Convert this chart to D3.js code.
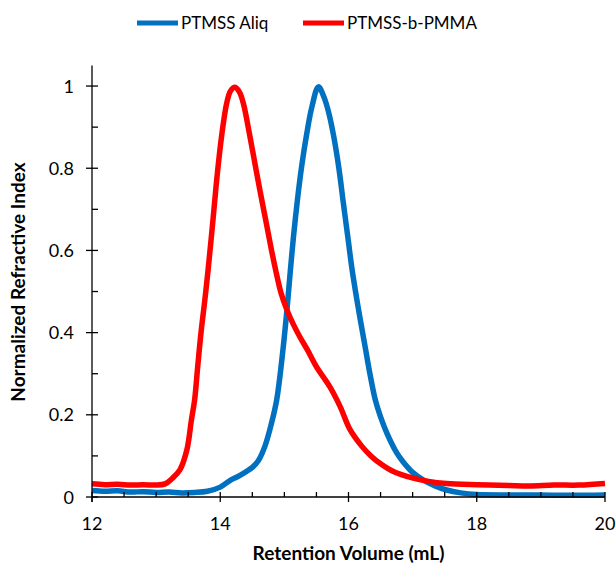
<!DOCTYPE html>
<html>
<head>
<meta charset="utf-8">
<script src="https://cdn.jsdelivr.net/npm/d3@7"></script>
<style>
  html, body { margin: 0; padding: 0; background: #fff; }
  svg { display: block; font-family: Lato, "Open Sans", sans-serif; }
</style>
</head>
<body>
<svg id="chart" width="616" height="565"></svg>
<script>
// SEC traces: retention volume (mL) vs normalized refractive index
const seriesNames = ["PTMSS Aliq", "PTMSS-b-PMMA"];
const seriesColors = ["#0070C0", "#FF0000"];

const aliqVolume = [12.0, 12.2, 12.4, 12.6, 12.8, 13.0, 13.2, 13.4, 13.6, 13.8, 14.0, 14.15, 14.3, 14.5, 14.6, 14.7, 14.8, 14.88, 14.96, 15.04, 15.09, 15.14, 15.20, 15.27, 15.35, 15.43, 15.53, 15.62, 15.70, 15.77, 15.85, 15.92, 16.0, 16.05, 16.12, 16.18, 16.26, 16.34, 16.42, 16.5, 16.6, 16.75, 16.85, 17.0, 17.17, 17.35, 17.53, 17.75, 18.0, 18.5, 19.0, 19.5, 20.0];
const aliqRI = [0.016, 0.014, 0.015, 0.012, 0.013, 0.011, 0.012, 0.010, 0.011, 0.014, 0.024, 0.040, 0.052, 0.072, 0.090, 0.125, 0.180, 0.236, 0.333, 0.455, 0.545, 0.630, 0.718, 0.805, 0.885, 0.950, 0.998, 0.972, 0.930, 0.877, 0.800, 0.715, 0.620, 0.560, 0.490, 0.435, 0.365, 0.295, 0.235, 0.195, 0.155, 0.108, 0.086, 0.060, 0.041, 0.027, 0.017, 0.010, 0.006, 0.005, 0.005, 0.004, 0.005];

const blockVolume = [12.0, 12.2, 12.4, 12.6, 12.8, 13.0, 13.14, 13.25, 13.37, 13.48, 13.55, 13.6, 13.65, 13.7, 13.76, 13.81, 13.89, 13.95, 14.02, 14.10, 14.16, 14.23, 14.30, 14.36, 14.46, 14.54, 14.62, 14.72, 14.80, 14.87, 14.95, 15.04, 15.14, 15.24, 15.37, 15.50, 15.71, 15.87, 16.02, 16.2, 16.35, 16.49, 16.7, 17.01, 17.25, 17.53, 18.0, 18.5, 18.83, 19.2, 19.6, 20.0];
const blockRI = [0.032, 0.030, 0.031, 0.029, 0.030, 0.029, 0.032, 0.045, 0.066, 0.115, 0.187, 0.236, 0.320, 0.400, 0.480, 0.552, 0.680, 0.780, 0.877, 0.958, 0.988, 0.997, 0.985, 0.958, 0.880, 0.812, 0.745, 0.665, 0.600, 0.548, 0.495, 0.455, 0.420, 0.390, 0.355, 0.317, 0.268, 0.220, 0.165, 0.125, 0.100, 0.082, 0.062, 0.046, 0.038, 0.033, 0.030, 0.028, 0.027, 0.029, 0.029, 0.033];

const xTicks = [12, 14, 16, 18, 20];
const yTicks = [0, 0.2, 0.4, 0.6, 0.8, 1];
const yTickLabels = ["0", "0.2", "0.4", "0.6", "0.8", "1"];

const svg = d3.select("#chart");

const x = d3.scaleLinear().domain([12, 20]).range([92, 605]);
const y = d3.scaleLinear().domain([0, 1.05]).range([497, 65.5]);

// curves
const traces = [
  { vol: aliqVolume, ri: aliqRI },
  { vol: blockVolume, ri: blockRI }
];
const line = d3.line().x(d => x(d[0])).y(d => y(d[1])).curve(d3.curveCatmullRom.alpha(0.5));
const plot = svg.append("g");
traces.forEach((t, i) => {
  const pts = t.vol.map((v, j) => [v, t.ri[j]]);
  plot.append("path")
    .datum(pts)
    .attr("d", line)
    .attr("fill", "none")
    .attr("stroke", seriesColors[i])
    .attr("stroke-width", 5.5)
    .attr("stroke-linejoin", "round")
    .attr("stroke-linecap", "butt");
});

// axes
const axisG = svg.append("g").attr("stroke", "#000").attr("stroke-width", 1.3);
axisG.append("line").attr("x1", x(12)).attr("x2", x(20)).attr("y1", y(0)).attr("y2", y(0));
axisG.append("line").attr("x1", x(12)).attr("x2", x(12)).attr("y1", y(0) + 5).attr("y2", y(1.05));

// x ticks: major crossing, minor inside
d3.range(12, 20.01, 0.5).forEach(v => {
  const major = Math.abs(v % 2) < 1e-6;
  axisG.append("line")
    .attr("x1", x(v)).attr("x2", x(v))
    .attr("y1", y(0) - 5).attr("y2", major ? y(0) + 5 : y(0));
});
// y ticks: major crossing, minor inside
d3.range(0, 1.001, 0.1).forEach(v => {
  const major = Math.abs(Math.round(v * 10) % 2) === 0;
  axisG.append("line")
    .attr("x1", major ? x(12) - 6 : x(12)).attr("x2", x(12) + 6)
    .attr("y1", y(v)).attr("y2", y(v));
});

const labels = svg.append("g").attr("fill", "#000").attr("font-size", 18);
xTicks.forEach(v => {
  labels.append("text").attr("x", x(v)).attr("y", 530).attr("text-anchor", "middle").text(v);
});
yTicks.forEach((v, i) => {
  labels.append("text").attr("x", 74).attr("y", y(v) + 6.5).attr("text-anchor", "end").text(yTickLabels[i]);
});

// axis titles
svg.append("text")
  .attr("x", (x(12) + x(20)) / 2).attr("y", 560)
  .attr("text-anchor", "middle").attr("font-weight", "bold").attr("font-size", 19)
  .text("Retention Volume (mL)");
svg.append("text")
  .attr("transform", "translate(25,282) rotate(-90)")
  .attr("text-anchor", "middle").attr("font-weight", "bold").attr("font-size", 19)
  .text("Normalized Refractive Index");

// legend
const legend = svg.append("g").attr("font-size", 17);
const legendItems = [{ x0: 137, tx: 181 }, { x0: 303, tx: 347 }];
legendItems.forEach((it, i) => {
  legend.append("line")
    .attr("x1", it.x0).attr("x2", it.x0 + 41).attr("y1", 23).attr("y2", 23)
    .attr("stroke", seriesColors[i]).attr("stroke-width", 5);
  legend.append("text").attr("x", it.tx).attr("y", 29).text(seriesNames[i]);
});
</script>
</body>
</html>
